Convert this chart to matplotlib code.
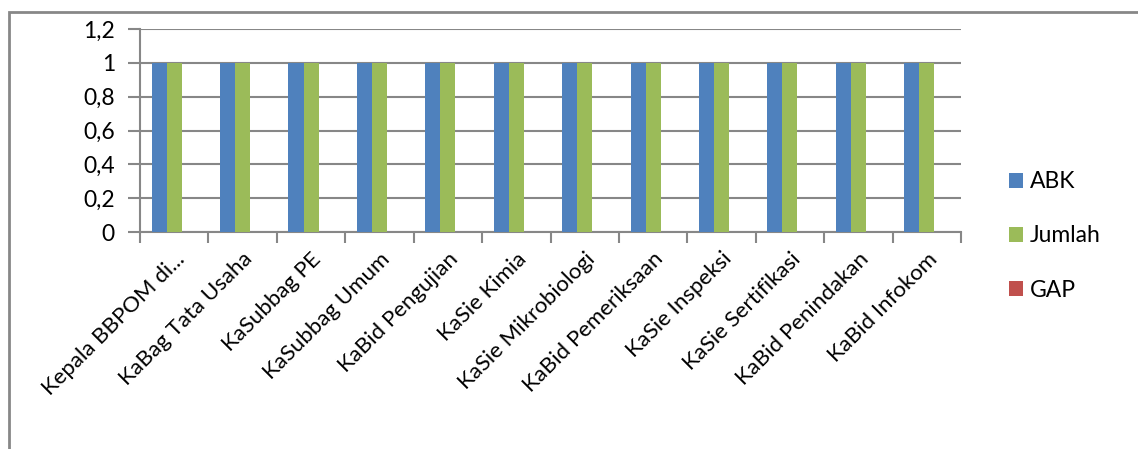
import numpy as np
from matplotlib import pyplot as plt
from matplotlib.patches import Rectangle
from matplotlib.ticker import FuncFormatter

plt.rcParams['font.family'] = ['Lato', 'DejaVu Sans']

categories = ['Kepala BBPOM di...', 'KaBag Tata Usaha', 'KaSubbag PE', 'KaSubbag Umum',
              'KaBid Pengujian', 'KaSie Kimia', 'KaSie Mikrobiologi', 'KaBid Pemeriksaan',
              'KaSie Inspeksi', 'KaSie Sertifikasi', 'KaBid Penindakan', 'KaBid Infokom']
abk = [1, 1, 1, 1, 1, 1, 1, 1, 1, 1, 1, 1]
jumlah = [1, 1, 1, 1, 1, 1, 1, 1, 1, 1, 1, 1]
gap = [0, 0, 0, 0, 0, 0, 0, 0, 0, 0, 0, 0]

W, H = 1138, 449
fig = plt.figure(figsize=(W / 100, H / 100), dpi=100)
ax = fig.add_axes([140 / W, 1 - 232 / H, (961 - 140) / W, (232 - 29) / H])

grey = '#878787'
x = np.arange(len(categories))
bw = 0.22
ax.bar(x - bw, abk, bw, color='#4F81BD', label='ABK', zorder=3)
ax.bar(x, jumlah, bw, color='#9BBB59', label='Jumlah', zorder=3)
ax.bar(x + bw, gap, bw, color='#C0504D', label='GAP', zorder=3)

ax.set_xlim(-0.5, len(categories) - 0.5)
ax.set_ylim(0, 1.2)
ax.set_yticks(np.arange(0, 1.21, 0.2))
ax.yaxis.set_major_formatter(FuncFormatter(lambda v, p: ('%g' % round(v, 1)).replace('.', ',')))
ax.grid(axis='y', color=grey, linewidth=1.5, zorder=0)

ax.set_xticks(np.arange(-0.5, len(categories), 1.0))
ax.set_xticklabels([])
ax.set_xticks(x, minor=True)
ax.set_xticklabels(categories, minor=True, rotation=45, ha='right', va='top',
                   rotation_mode='anchor', fontsize=16)
ax.tick_params(axis='x', which='minor', length=0, pad=12)
ax.tick_params(axis='x', which='major', length=8, width=1.5, color=grey)
ax.tick_params(axis='y', length=9, width=1.5, color=grey, labelsize=16.5, pad=9)

for s in ['top', 'right']:
    ax.spines[s].set_visible(False)
for s in ['left', 'bottom']:
    ax.spines[s].set_color(grey)
    ax.spines[s].set_linewidth(1.5)

ax.legend(loc='center left', bbox_to_anchor=(988 / W, 1 - 236 / H),
          bbox_transform=fig.transFigure, frameon=False, fontsize=16.5,
          labelspacing=1.45, handlelength=0.62, handleheight=0.62, handletextpad=0.3)

fig.patches.append(Rectangle((9 / W, -0.1), 1.2, 1 - 12 / H + 0.1, transform=fig.transFigure,
                             fill=False, edgecolor=grey, linewidth=2))

fig.savefig('out.png', dpi=100)
